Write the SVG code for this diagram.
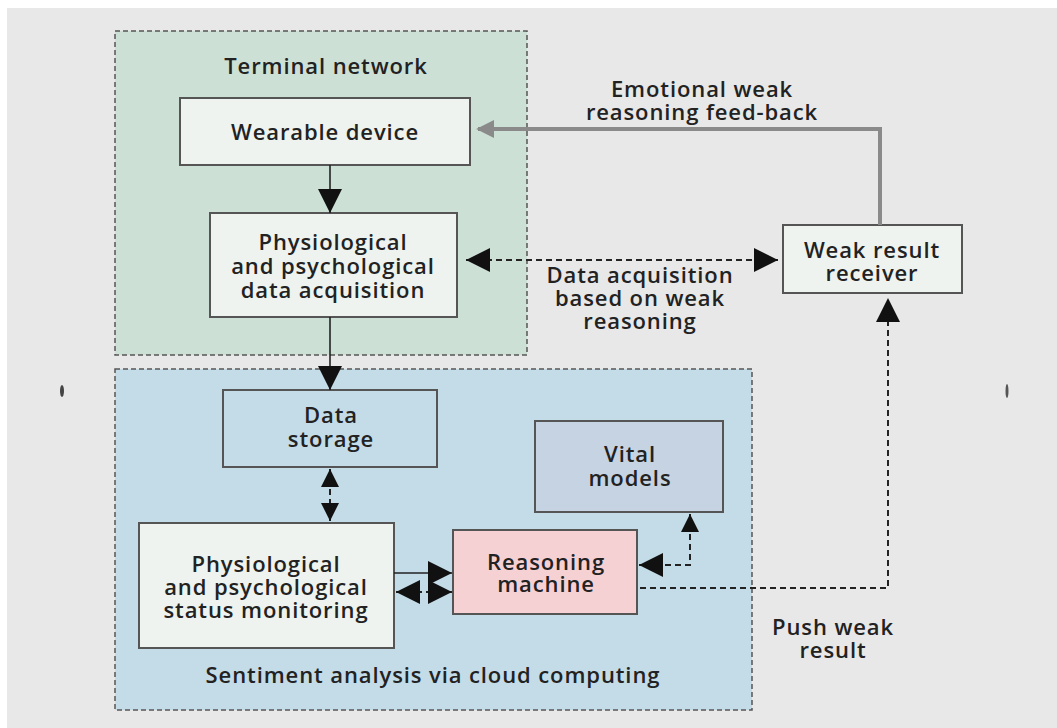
<svg xmlns="http://www.w3.org/2000/svg" width="1057" height="728" viewBox="0 0 1057 728">
<defs>
<style>
text{font-family:"Open Sans","Noto Sans","Liberation Sans",sans-serif;font-size:22px;font-weight:600;letter-spacing:0.9px;fill:#222;text-anchor:middle}
.node{stroke:#555;stroke-width:2}
.grp{stroke:#555;stroke-width:1.5;stroke-dasharray:5 3}
.c{fill:none;stroke:#222;stroke-width:1.6}
.d{fill:none;stroke:#222;stroke-width:2;stroke-dasharray:6 4}
.g{fill:none;stroke:#8a8a8a;stroke-width:4}
</style>
<marker id="ahL" viewBox="0 0 10 10" refX="10" refY="5" markerWidth="24" markerHeight="24" markerUnits="userSpaceOnUse" orient="auto-start-reverse"><path d="M0,0L10,5L0,10z" fill="#111"/></marker>
<marker id="ahM" viewBox="0 0 10 10" refX="10" refY="5" markerWidth="18" markerHeight="18" markerUnits="userSpaceOnUse" orient="auto-start-reverse"><path d="M0,0L10,5L0,10z" fill="#111"/></marker>
<marker id="ahG" viewBox="0 0 10 10" refX="9" refY="5" markerWidth="18" markerHeight="18" markerUnits="userSpaceOnUse" orient="auto"><path d="M0,0L10,5L0,10z" fill="#8a8a8a"/></marker>
</defs>
<rect x="0" y="0" width="1057" height="728" fill="#fff"/>
<rect x="7" y="8" width="1050" height="720" fill="#e8e8e8"/>
<ellipse cx="62" cy="391" rx="2" ry="6" fill="#444"/>
<ellipse cx="1007" cy="391" rx="1.5" ry="7" fill="#555"/>

<g id="terminal-network">
<rect class="grp" x="115" y="31" width="412" height="324" fill="#cde0d6"/>
<text x="326" y="74">Terminal network</text>
</g>
<g id="cloud">
<rect class="grp" x="115" y="369" width="637" height="341" fill="#c4dce8"/>
<text x="433" y="683">Sentiment analysis via cloud computing</text>
</g>

<g id="wearable-device">
<rect class="node" x="180" y="98" width="290" height="67" fill="#eef3ef"/>
<text x="325" y="140">Wearable device</text>
</g>
<g id="data-acquisition">
<rect class="node" x="210" y="213" width="247" height="104" fill="#eef3ef"/>
<text x="333" y="250">Physiological<tspan x="333" dy="24">and psychological</tspan><tspan x="333" dy="24">data acquisition</tspan></text>
</g>
<g id="weak-result-receiver">
<rect class="node" x="783" y="225" width="179" height="68" fill="#eef3ef"/>
<text x="872" y="258">Weak result<tspan x="872" dy="23">receiver</tspan></text>
</g>
<g id="data-storage">
<rect class="node" x="223" y="390" width="214" height="77" fill="#c4dce8"/>
<text x="331" y="423">Data<tspan x="331" dy="24">storage</tspan></text>
</g>
<g id="vital-models">
<rect class="node" x="535" y="421" width="188" height="91" fill="#c6d3e2"/>
<text x="630" y="462">Vital<tspan x="630" dy="24">models</tspan></text>
</g>
<g id="status-monitoring">
<rect class="node" x="139" y="523" width="255" height="125" fill="#eef3ef"/>
<text x="266" y="572">Physiological<tspan x="266" dy="23">and psychological</tspan><tspan x="266" dy="23">status monitoring</tspan></text>
</g>
<g id="reasoning-machine">
<rect class="node" x="453" y="530" width="184" height="84" fill="#f5d1d4"/>
<text x="546" y="570">Reasoning<tspan x="546" dy="22">machine</tspan></text>
</g>

<g id="connectors">
<line class="c" x1="330" y1="165" x2="330" y2="213" marker-end="url(#ahL)"/>
<line class="c" x1="330" y1="317" x2="330" y2="390" marker-end="url(#ahL)"/>
<line class="d" x1="466" y1="260" x2="778" y2="260" marker-start="url(#ahL)" marker-end="url(#ahL)"/>
<polyline class="g" points="880,225 880,129 478,129" marker-end="url(#ahG)"/>
<line class="d" x1="330" y1="469" x2="330" y2="521" marker-start="url(#ahM)" marker-end="url(#ahM)"/>
<line class="c" x1="394" y1="573" x2="452" y2="573" marker-end="url(#ahL)"/>
<line class="d" x1="396" y1="592" x2="452" y2="592" marker-start="url(#ahL)" marker-end="url(#ahL)"/>
<polyline class="d" points="690,514 690,565 639,565" marker-start="url(#ahM)" marker-end="url(#ahL)"/>
<polyline class="d" points="640,588 888,588 888,298" marker-end="url(#ahL)"/>
</g>

<g id="labels">
<text x="702" y="97">Emotional weak<tspan x="702" dy="23">reasoning feed-back</tspan></text>
<text x="640" y="283">Data acquisition<tspan x="640" dy="23">based on weak</tspan><tspan x="640" dy="23">reasoning</tspan></text>
<text x="833" y="635">Push weak<tspan x="833" dy="23">result</tspan></text>
</g>
</svg>
